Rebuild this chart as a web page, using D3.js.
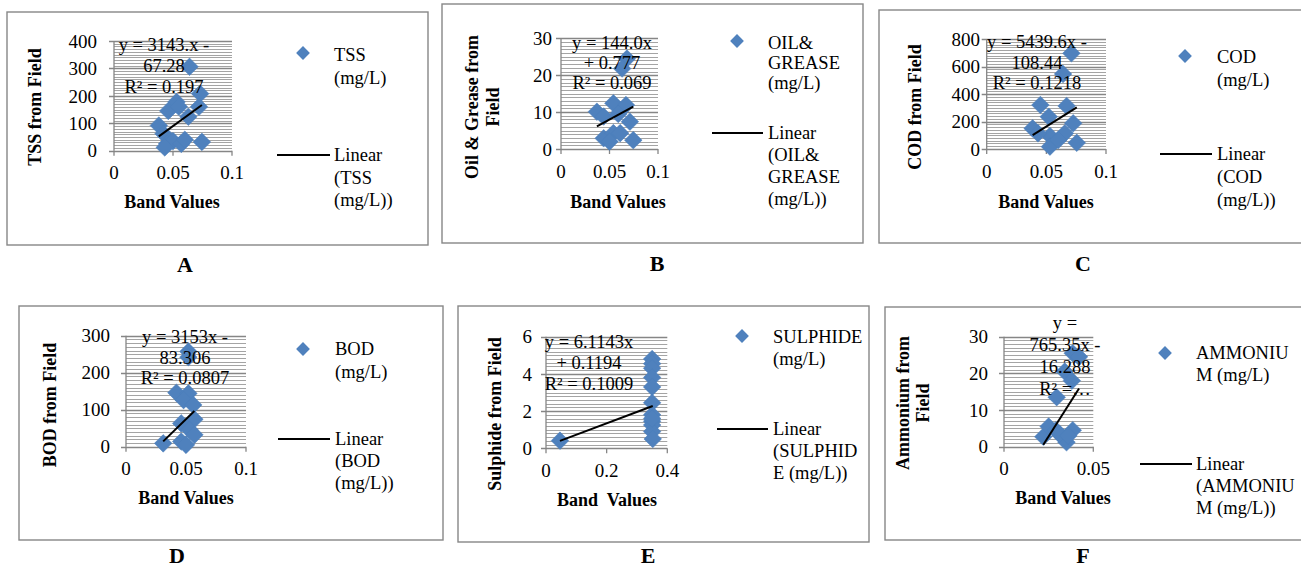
<!DOCTYPE html>
<html>
<head>
<meta charset="utf-8">
<script src="https://cdn.jsdelivr.net/npm/d3@7"></script>
<style>
  html, body { margin: 0; padding: 0; background: #fff; }
  svg text { font-family: "Liberation Serif", "Times New Roman", serif; fill: #000; }
</style>
</head>
<body>
<svg id="chart" width="1301" height="567"></svg>
<script>
// ---------- DATA ----------
const tssX = [0.064, 0.073, 0.072, 0.053, 0.046, 0.063, 0.038, 0.042, 0.045, 0.050, 0.057, 0.0745, 0.043, 0.055, 0.060];
const tssY = [306, 208, 160, 178, 145, 124, 92, 62, 25, 35, 25, 32, 12, 160, 40];

const oilX = [0.068, 0.063, 0.037, 0.054, 0.067, 0.071, 0.044, 0.044, 0.054, 0.0745, 0.050, 0.061, 0.059];
const oilY = [24.5, 21.8, 10.1, 12.4, 11.9, 7.4, 8.8, 2.9, 4.3, 2.4, 2.0, 4.3, 9.5];

const codX = [0.071, 0.064, 0.045, 0.067, 0.052, 0.0385, 0.0725, 0.0655, 0.053, 0.043, 0.053, 0.0755, 0.060];
const codY = [696, 545, 320, 313, 235, 150, 187, 114, 95, 114, 17, 45, 65];

const bodX = [0.052, 0.052, 0.042, 0.052, 0.048, 0.056, 0.057, 0.046, 0.053, 0.057, 0.031, 0.046, 0.050];
const bodY = [257, 242, 146, 144, 126, 113, 74, 63, 45, 32, 9, 14, 5];

const sulX = [0.046, 0.35, 0.35, 0.35, 0.35, 0.35, 0.35, 0.35, 0.35, 0.35, 0.35, 0.352, 0.35];
const sulY = [0.41, 4.8, 4.55, 4.3, 3.8, 3.3, 2.45, 1.8, 1.45, 1.25, 0.9, 0.5, 1.6];

const ammX = [0.022, 0.025, 0.0295, 0.029, 0.034, 0.0385, 0.042, 0.038, 0.033, 0.0385, 0.035, 0.031, 0.036];
const ammY = [2.7, 5.5, 13.5, 4.5, 20.5, 25.5, 24.5, 18.0, 2.5, 4.5, 1.2, 3.5, 3.0];

// tick values
const xTicks01 = [0, 0.05, 0.1];
const xTicks04 = [0, 0.2, 0.4];
const xTicks005 = [0, 0.05];
const yTicksTSS = [0, 100, 200, 300, 400];
const yTicksOil = [0, 10, 20, 30];
const yTicksCOD = [0, 200, 400, 600, 800];
const yTicksBOD = [0, 100, 200, 300];
const yTicksSul = [0, 2, 4, 6];
const yTicksAmm = [0, 10, 20, 30];

// trendline coefficients [slope, intercept]
const trendTSS = [3143, -67.28];
const trendOil = [144.0, 0.777];
const trendCOD = [5439.6, -108.44];
const trendBOD = [3153, -83.306];
const trendSul = [6.1143, 0.1194];
const trendAmm = [765.35, -16.288];

// texts
const eqTSS = ["y = 3143.x -", "67.28", "R² = 0.197"];
const eqOil = ["y = 144.0x", "+ 0.777", "R² = 0.069"];
const eqCOD = ["y = 5439.6x -", "108.44", "R² = 0.1218"];
const eqBOD = ["y = 3153x -", "83.306", "R² = 0.0807"];
const eqSul = ["y = 6.1143x", "+ 0.1194", "R² = 0.1009"];
const eqAmm = ["y =", "765.35x -", "16.288", "R² =…"];

const legTSS = [["TSS", "(mg/L)"], ["Linear", "(TSS", "(mg/L))"]];
const legOil = [["OIL&", "GREASE", "(mg/L)"], ["Linear", "(OIL&", "GREASE", "(mg/L))"]];
const legCOD = [["COD", "(mg/L)"], ["Linear", "(COD", "(mg/L))"]];
const legBOD = [["BOD", "(mg/L)"], ["Linear", "(BOD", "(mg/L))"]];
const legSul = [["SULPHIDE", "(mg/L)"], ["Linear", "(SULPHID", "E (mg/L))"]];
const legAmm = [["AMMONIU", "M (mg/L)"], ["Linear", "(AMMONIU", "M (mg/L))"]];

const yTitles = {
  A: ["TSS from Field"], B: ["Oil & Grease from", "Field"], C: ["COD from Field"],
  D: ["BOD from Field"], E: ["Sulphide from Field"], F: ["Ammonium from", "Field"]
};
const xTitles = { A: "Band Values", B: "Band Values", C: "Band Values", D: "Band Values", E: "Band  Values", F: "Band Values" };

// ---------- LAYOUT ----------
const layout = {
  A: { box: [7, 12, 428, 245], plot: [114, 41, 232, 150.7], yLab: 97, yTitle: [35, 107, 21], xTitle: [172, 202],
       eq: [164, 45, 21], legM: [303, 53], legT: [334, 55, 22.5], legL: [277, 330, 155], legLT: [155, 22.5], letter: [185, 264] },
  B: { box: [442, 4, 863, 243], plot: [561, 38.3, 658, 149], yLab: 552, yTitle: [482, 107, 21], xTitle: [618, 202],
       eq: [612, 43, 20], legM: [737, 41], legT: [768, 43, 20], legL: [712, 763, 133], legLT: [133, 21.7], letter: [657, 263] },
  C: { box: [879, 10, 1310, 243], plot: [986.7, 39, 1106, 149], yLab: 980, yTitle: [915, 107, 21], xTitle: [1046, 202],
       eq: [1037, 42, 20.5], legM: [1185, 56], legT: [1217, 57, 23], legL: [1160, 1212, 154], legLT: [154, 23], letter: [1083, 263] },
  D: { box: [19, 306, 443, 540], plot: [126, 335.7, 246, 446.7], yLab: 110, yTitle: [50, 405, 21], xTitle: [186, 498],
       eq: [185, 337, 20.5], legM: [303, 349], legT: [335, 349, 22.5], legL: [278, 330, 439], legLT: [439, 22], letter: [177, 555] },
  E: { box: [458, 306, 869, 542], plot: [546, 336.7, 667.3, 448.3], yLab: 532, yTitle: [495, 414, 21], xTitle: [607, 500],
       eq: [589, 342, 21], legM: [742, 336], legT: [773, 337, 21.5], legL: [717, 768, 429], legLT: [429, 22], letter: [648, 555] },
  F: { box: [885, 307, 1310, 540], plot: [1004, 336.7, 1093.3, 446.7], yLab: 988, yTitle: [913, 403, 20], xTitle: [1063, 498],
       eq: [1065, 323, 21.7], legM: [1165, 353], legT: [1196, 353, 22], legL: [1140, 1192, 464], legLT: [464, 22], letter: [1083, 555] }
};

const panels = [
  { id: "A", xs: tssX, ys: tssY, xT: xTicks01, yT: yTicksTSS, trend: trendTSS, eq: eqTSS, leg: legTSS },
  { id: "B", xs: oilX, ys: oilY, xT: xTicks01, yT: yTicksOil, trend: trendOil, eq: eqOil, leg: legOil },
  { id: "C", xs: codX, ys: codY, xT: xTicks01, yT: yTicksCOD, trend: trendCOD, eq: eqCOD, leg: legCOD },
  { id: "D", xs: bodX, ys: bodY, xT: xTicks01, yT: yTicksBOD, trend: trendBOD, eq: eqBOD, leg: legBOD },
  { id: "E", xs: sulX, ys: sulY, xT: xTicks04, yT: yTicksSul, trend: trendSul, eq: eqSul, leg: legSul },
  { id: "F", xs: ammX, ys: ammY, xT: xTicks005, yT: yTicksAmm, trend: trendAmm, eq: eqAmm, leg: legAmm }
];

const BLUE = "#4F81BD";
const GRID = "#868686";
const MINOR = "#a4a4a4";
const FS = 18.5;
const FS_TICK = 19;

const svg = d3.select("#chart");
const diamond = (size) => d3.symbol().type(d3.symbolSquare).size(size)();

panels.forEach(p => {
  const L = layout[p.id];
  const g = svg.append("g");
  const [bx0, by0, bx1, by1] = L.box;
  g.append("rect").attr("x", bx0).attr("y", by0).attr("width", bx1 - bx0).attr("height", by1 - by0)
    .attr("fill", "#fff").attr("stroke", "#878787").attr("stroke-width", 1.4);

  const [px0, py0, px1, py1] = L.plot;
  const xMax = d3.max(p.xT), yMax = d3.max(p.yT);
  const x = d3.scaleLinear().domain([0, xMax]).range([px0, px1]);
  const y = d3.scaleLinear().domain([0, yMax]).range([py1, py0]);

  // minor gridlines (10 per major interval)
  const majorStep = p.yT[1] - p.yT[0];
  const minorVals = d3.range(1, (p.yT.length - 1) * 10).filter(i => i % 10 !== 0).map(i => i * majorStep / 10);
  g.selectAll(".minor").data(minorVals).join("line")
    .attr("x1", px0).attr("x2", px1).attr("y1", d => Math.round(y(d)) + 0.5).attr("y2", d => Math.round(y(d)) + 0.5)
    .attr("stroke", MINOR).attr("stroke-width", 1);
  // major gridlines (with ticks to the left)
  g.selectAll(".major").data(p.yT).join("line")
    .attr("x1", px0 - 5).attr("x2", px1).attr("y1", d => Math.round(y(d)) + 0.5).attr("y2", d => Math.round(y(d)) + 0.5)
    .attr("stroke", GRID).attr("stroke-width", 1.3);
  // y axis line
  g.append("line").attr("x1", px0).attr("x2", px0).attr("y1", y(yMax)).attr("y2", y(0))
    .attr("stroke", GRID).attr("stroke-width", 1.3);
  // x ticks
  g.selectAll(".xtick").data(p.xT).join("line")
    .attr("x1", d => x(d)).attr("x2", d => x(d)).attr("y1", y(0)).attr("y2", y(0) + 5)
    .attr("stroke", GRID).attr("stroke-width", 1.3);

  // y tick labels
  g.selectAll(".ylab").data(p.yT).join("text")
    .attr("x", L.yLab).attr("y", d => y(d)).attr("dy", "0.35em").attr("text-anchor", "end")
    .attr("font-size", FS_TICK).text(d => String(d));
  // x tick labels
  g.selectAll(".xlab").data(p.xT).join("text")
    .attr("x", d => x(d)).attr("y", y(0) + 22).attr("dy", "0.35em").attr("text-anchor", "middle")
    .attr("font-size", FS_TICK).text(d => String(d));

  // titles
  g.append("text").attr("x", L.xTitle[0]).attr("y", L.xTitle[1]).attr("dy", "0.35em")
    .attr("text-anchor", "middle").attr("font-size", 18).attr("font-weight", "bold")
    .style("white-space", "pre").text(xTitles[p.id]);
  const yt = yTitles[p.id];
  yt.forEach((t, i) => {
    const cx = L.yTitle[0] + (i - (yt.length - 1) / 2) * L.yTitle[2];
    g.append("text").attr("transform", `translate(${cx},${L.yTitle[1]}) rotate(-90)`)
      .attr("dy", "0.35em").attr("text-anchor", "middle").attr("font-size", 18).attr("font-weight", "bold").text(t);
  });

  // points
  const pts = p.xs.map((v, i) => [v, p.ys[i]]);
  g.selectAll(".pt").data(pts).join("path")
    .attr("d", diamond(155))
    .attr("transform", d => `translate(${x(d[0])},${y(d[1])}) rotate(45)`)
    .attr("fill", BLUE).attr("stroke", "#4A7EBB").attr("stroke-width", 0.5);

  // trendline
  const xe = d3.extent(p.xs);
  const tl = xe.map(v => [v, p.trend[0] * v + p.trend[1]]);
  g.append("path").attr("d", d3.line().x(d => x(d[0])).y(d => y(d[1]))(tl))
    .attr("stroke", "#000").attr("stroke-width", 2).attr("fill", "none");

  // equation label
  p.eq.forEach((t, i) => {
    g.append("text").attr("x", L.eq[0]).attr("y", L.eq[1] + i * L.eq[2]).attr("dy", "0.35em")
      .attr("text-anchor", "middle").attr("font-size", FS).text(t);
  });

  // legend
  g.append("path").attr("d", diamond(95)).attr("transform", `translate(${L.legM[0]},${L.legM[1]}) rotate(45)`)
    .attr("fill", BLUE);
  p.leg[0].forEach((t, i) => {
    g.append("text").attr("x", L.legT[0]).attr("y", L.legT[1] + i * L.legT[2]).attr("dy", "0.35em")
      .attr("font-size", FS).style("white-space", "pre").text(t);
  });
  g.append("line").attr("x1", L.legL[0]).attr("x2", L.legL[1]).attr("y1", L.legL[2]).attr("y2", L.legL[2])
    .attr("stroke", "#000").attr("stroke-width", 2);
  p.leg[1].forEach((t, i) => {
    g.append("text").attr("x", L.legT[0]).attr("y", L.legLT[0] + i * L.legLT[1]).attr("dy", "0.35em")
      .attr("font-size", FS).style("white-space", "pre").text(t);
  });

  // panel letter
  g.append("text").attr("x", L.letter[0]).attr("y", L.letter[1]).attr("dy", "0.35em")
    .attr("text-anchor", "middle").attr("font-size", 22).attr("font-weight", "bold").text(p.id);
});
</script>
</body>
</html>
